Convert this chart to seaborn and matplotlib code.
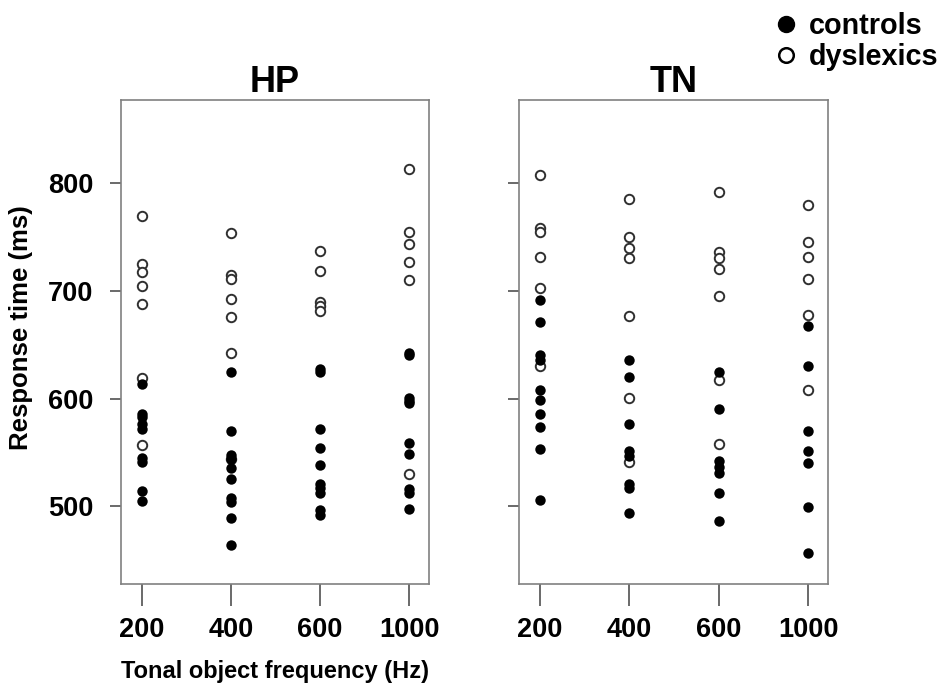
import numpy as np
import pandas as pd
import matplotlib
matplotlib.use("Agg")
import matplotlib.pyplot as plt
from matplotlib.lines import Line2D
import seaborn as sns

sns.set_style("ticks")
plt.rcParams["font.family"] = ["Liberation Sans", "DejaVu Sans"]
plt.rcParams["font.weight"] = "bold"
plt.rcParams["text.color"] = "black"
plt.rcParams["axes.labelcolor"] = "black"
plt.rcParams["xtick.labelcolor"] = "black"
plt.rcParams["ytick.labelcolor"] = "black"

# Stimulus frequencies (Hz) used as categories on the x axis
freq_labels = ["200", "400", "600", "1000"]
panel_titles = ["HP", "TN"]
y_ticks = [500, 600, 700, 800]

# Individual response times (ms), HP task
hp_controls = {
    "200": [614, 586, 583, 576, 572, 545, 541, 514, 505],
    "400": [625, 570, 548, 544, 536, 525, 508, 504, 489, 464],
    "600": [627, 625, 572, 554, 538, 521, 517, 512, 497, 492],
    "1000": [642, 640, 601, 598, 596, 559, 549, 516, 512, 498],
}
hp_dyslexics = {
    "200": [769, 725, 717, 704, 688, 619, 557],
    "400": [754, 715, 711, 692, 676, 642, 544],
    "600": [737, 718, 690, 686, 681],
    "1000": [813, 755, 743, 727, 710, 530],
}

# Individual response times (ms), TN task
tn_controls = {
    "200": [691, 671, 640, 636, 608, 599, 586, 574, 553, 506],
    "400": [636, 620, 576, 551, 547, 521, 517, 494],
    "600": [625, 590, 542, 537, 531, 512, 486],
    "1000": [667, 630, 570, 551, 540, 499, 457],
}
tn_dyslexics = {
    "200": [807, 758, 755, 731, 703, 630],
    "400": [785, 750, 740, 730, 677, 601, 541],
    "600": [792, 736, 730, 720, 695, 617, 558],
    "1000": [780, 745, 731, 711, 678, 608],
}

rows = []
for panel, ctrl, dys in [("HP", hp_controls, hp_dyslexics),
                         ("TN", tn_controls, tn_dyslexics)]:
    for group, table in [("controls", ctrl), ("dyslexics", dys)]:
        for f in freq_labels:
            for v in table[f]:
                rows.append({"panel": panel, "group": group, "freq": f, "rt": v})
df = pd.DataFrame(rows)

W, H = 943, 685
fig = plt.figure(figsize=(W / 100, H / 100), dpi=100)

def frac_box(x0, x1, y0, y1):
    return [x0 / W, 1 - y1 / H, (x1 - x0) / W, (y1 - y0) / H]

axes = [fig.add_axes(frac_box(121, 429, 100, 584)),
        fig.add_axes(frac_box(519, 828, 100, 584))]

spine_col = "#808080"
for i, (ax, panel) in enumerate(zip(axes, panel_titles)):
    sub = df[df["panel"] == panel]
    sns.stripplot(data=sub[sub["group"] == "dyslexics"], x="freq", y="rt",
                  order=freq_labels, jitter=False, color="white",
                  edgecolor="#303030", linewidth=1.4, size=6.8, ax=ax, zorder=3)
    sns.stripplot(data=sub[sub["group"] == "controls"], x="freq", y="rt",
                  order=freq_labels, jitter=False, color="black",
                  linewidth=0, size=7.5, ax=ax, zorder=4)
    ax.set_xlim(-0.23, 3.22)
    ax.set_ylim(428, 877)
    ax.set_yticks(y_ticks)
    for s in ax.spines.values():
        s.set_visible(True)
        s.set_color(spine_col)
        s.set_linewidth(1.2)
    ax.tick_params(axis="x", length=16, width=1.2, color="#505050", pad=8,
                   labelsize=19.5, labelcolor="black")
    ax.tick_params(axis="y", length=8, width=1.2, color="#505050", pad=12,
                   labelsize=19.5, labelcolor="black")
    for lab in ax.get_xticklabels() + ax.get_yticklabels():
        lab.set_fontweight("bold")
    ax.set_title(panel, fontsize=26, fontweight="bold", pad=-1.5, color="black")
    ax.set_ylabel("")
    ax.set_xlabel("")
    if i == 1:
        ax.set_yticklabels([])

axes[0].set_xlabel("Tonal object frequency (Hz)", fontsize=17,
                   fontweight="bold", labelpad=12)
axes[0].set_ylabel("Response time (ms)", fontsize=18.5, fontweight="bold")
axes[0].yaxis.set_label_coords(-0.285, 0.53)

handles = [
    Line2D([], [], linestyle="none", marker="o", markersize=11.5,
           markerfacecolor="black", markeredgecolor="black"),
    Line2D([], [], linestyle="none", marker="o", markersize=10.5,
           markerfacecolor="white", markeredgecolor="black",
           markeredgewidth=1.8),
]
fig.legend(handles, ["controls", "dyslexics"], loc="upper right",
           bbox_to_anchor=(1.013, 1.008), frameon=False, handlelength=0.8,
           handletextpad=0.4, labelspacing=0.1, borderaxespad=0.2,
           prop={"size": 20.7, "weight": "bold"})

fig.savefig("out.png", dpi=100, facecolor="white")
